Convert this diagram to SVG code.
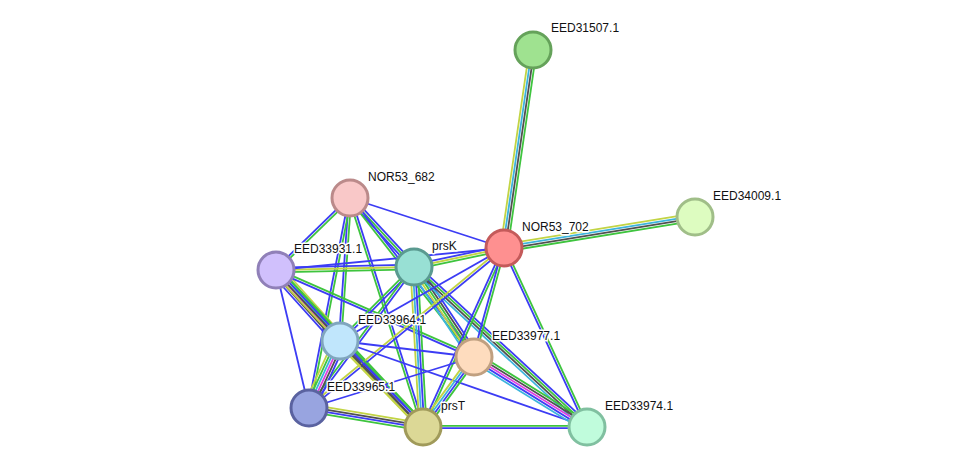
<svg xmlns="http://www.w3.org/2000/svg" width="975" height="473" viewBox="0 0 975 473">
<style>
line{stroke-width:1.8;fill:none}
.g{stroke:#3ec43e}.b{stroke:#3c3cf4}.y{stroke:#c2d444}.c{stroke:#3cb4dc}.k{stroke:#505050}.m{stroke:#e040e0}
.node circle{stroke-width:3}
text{font-family:"Liberation Sans",Arial,sans-serif;font-size:12px;fill:#111;stroke:#fff;stroke-width:3;paint-order:stroke;stroke-linejoin:round}
</style>
<rect width="975" height="473" fill="#fff"/>
<g id="connectors">
<g transform="translate(533 50) rotate(98.33)"><line class="g" x1="0" y1="-3.6" x2="200.1" y2="-3.6"/><line class="k" x1="0" y1="-1.2" x2="200.1" y2="-1.2"/><line class="c" x1="0" y1="1.2" x2="200.1" y2="1.2"/><line class="y" x1="0" y1="3.6" x2="200.1" y2="3.6"/></g>
<g transform="translate(504 248) rotate(-9.22)"><line class="y" x1="0" y1="-3.6" x2="193.5" y2="-3.6"/><line class="c" x1="0" y1="-1.2" x2="193.5" y2="-1.2"/><line class="k" x1="0" y1="1.2" x2="193.5" y2="1.2"/><line class="g" x1="0" y1="3.6" x2="193.5" y2="3.6"/></g>
<g transform="translate(350 198) rotate(17.99)"><line class="b" x1="0" y1="0" x2="161.9" y2="0"/></g>
<g transform="translate(350 198) rotate(135.78)"><line class="g" x1="0" y1="-1.2" x2="103.2" y2="-1.2"/><line class="b" x1="0" y1="1.2" x2="103.2" y2="1.2"/></g>
<g transform="translate(350 198) rotate(47.15)"><line class="b" x1="0" y1="-2.4" x2="94.1" y2="-2.4"/><line class="g" x1="0" y1="0" x2="94.1" y2="0"/><line class="b" x1="0" y1="2.4" x2="94.1" y2="2.4"/></g>
<g transform="translate(350 198) rotate(94)"><line class="g" x1="0" y1="-1.2" x2="143.3" y2="-1.2"/><line class="b" x1="0" y1="1.2" x2="143.3" y2="1.2"/></g>
<g transform="translate(350 198) rotate(101.05)"><line class="g" x1="0" y1="-1.2" x2="214" y2="-1.2"/><line class="b" x1="0" y1="1.2" x2="214" y2="1.2"/></g>
<g transform="translate(350 198) rotate(72.32)"><line class="b" x1="0" y1="-1.2" x2="240.4" y2="-1.2"/><line class="g" x1="0" y1="1.2" x2="240.4" y2="1.2"/></g>
<g transform="translate(350 198) rotate(52.05)"><line class="b" x1="0" y1="-1.2" x2="201.6" y2="-1.2"/><line class="g" x1="0" y1="1.2" x2="201.6" y2="1.2"/></g>
<g transform="translate(276 270) rotate(-1.25)"><line class="b" x1="0" y1="-2.4" x2="138" y2="-2.4"/><line class="y" x1="0" y1="0" x2="138" y2="0"/><line class="g" x1="0" y1="2.4" x2="138" y2="2.4"/></g>
<g transform="translate(276 270) rotate(-5.51)"><line class="b" x1="0" y1="0" x2="229.1" y2="0"/></g>
<g transform="translate(276 270) rotate(47.97)"><line class="y" x1="0" y1="-6" x2="95.6" y2="-6"/><line class="g" x1="0" y1="-3.6" x2="95.6" y2="-3.6"/><line class="c" x1="0" y1="-1.2" x2="95.6" y2="-1.2"/><line class="m" x1="0" y1="1.2" x2="95.6" y2="1.2"/><line class="k" x1="0" y1="3.6" x2="95.6" y2="3.6"/><line class="b" x1="0" y1="6" x2="95.6" y2="6"/></g>
<g transform="translate(276 270) rotate(76.55)"><line class="b" x1="0" y1="0" x2="141.9" y2="0"/></g>
<g transform="translate(276 270) rotate(46.88)"><line class="g" x1="0" y1="-3.6" x2="215.1" y2="-3.6"/><line class="b" x1="0" y1="-1.2" x2="215.1" y2="-1.2"/><line class="k" x1="0" y1="1.2" x2="215.1" y2="1.2"/><line class="y" x1="0" y1="3.6" x2="215.1" y2="3.6"/></g>
<g transform="translate(276 270) rotate(23.72)"><line class="g" x1="0" y1="-1.2" x2="216.3" y2="-1.2"/><line class="b" x1="0" y1="1.2" x2="216.3" y2="1.2"/></g>
<g transform="translate(414 267) rotate(-11.92)"><line class="b" x1="0" y1="-2.4" x2="92" y2="-2.4"/><line class="y" x1="0" y1="0" x2="92" y2="0"/><line class="g" x1="0" y1="2.4" x2="92" y2="2.4"/></g>
<g transform="translate(414 267) rotate(135)"><line class="b" x1="0" y1="-1.2" x2="104.7" y2="-1.2"/><line class="g" x1="0" y1="1.2" x2="104.7" y2="1.2"/></g>
<g transform="translate(414 267) rotate(126.67)"><line class="b" x1="0" y1="-1.2" x2="175.8" y2="-1.2"/><line class="g" x1="0" y1="1.2" x2="175.8" y2="1.2"/></g>
<g transform="translate(414 267) rotate(86.78)"><line class="g" x1="0" y1="-3.6" x2="160.3" y2="-3.6"/><line class="b" x1="0" y1="-1.2" x2="160.3" y2="-1.2"/><line class="c" x1="0" y1="1.2" x2="160.3" y2="1.2"/><line class="y" x1="0" y1="3.6" x2="160.3" y2="3.6"/></g>
<g transform="translate(414 267) rotate(56.31)"><line class="b" x1="0" y1="-4.8" x2="108.2" y2="-4.8"/><line class="k" x1="0" y1="-2.4" x2="108.2" y2="-2.4"/><line class="g" x1="0" y1="0" x2="108.2" y2="0"/><line class="y" x1="0" y1="2.4" x2="108.2" y2="2.4"/><line class="c" x1="0" y1="4.8" x2="108.2" y2="4.8"/></g>
<g transform="translate(414 267) rotate(42.77)"><line class="b" x1="0" y1="-3.6" x2="235.6" y2="-3.6"/><line class="g" x1="0" y1="-1.2" x2="235.6" y2="-1.2"/><line class="k" x1="0" y1="1.2" x2="235.6" y2="1.2"/><line class="c" x1="0" y1="3.6" x2="235.6" y2="3.6"/></g>
<g transform="translate(504 248) rotate(150.44)"><line class="b" x1="0" y1="0" x2="188.5" y2="0"/></g>
<g transform="translate(504 248) rotate(140.63)"><line class="b" x1="0" y1="-1.2" x2="252.2" y2="-1.2"/><line class="y" x1="0" y1="1.2" x2="252.2" y2="1.2"/></g>
<g transform="translate(504 248) rotate(114.35)"><line class="g" x1="0" y1="-1.2" x2="196.5" y2="-1.2"/><line class="b" x1="0" y1="1.2" x2="196.5" y2="1.2"/></g>
<g transform="translate(504 248) rotate(105.39)"><line class="g" x1="0" y1="-1.2" x2="113.1" y2="-1.2"/><line class="b" x1="0" y1="1.2" x2="113.1" y2="1.2"/></g>
<g transform="translate(504 248) rotate(65.12)"><line class="g" x1="0" y1="-1.2" x2="197.3" y2="-1.2"/><line class="b" x1="0" y1="1.2" x2="197.3" y2="1.2"/></g>
<g transform="translate(340 341) rotate(114.83)"><line class="b" x1="0" y1="-6" x2="73.8" y2="-6"/><line class="k" x1="0" y1="-3.6" x2="73.8" y2="-3.6"/><line class="m" x1="0" y1="-1.2" x2="73.8" y2="-1.2"/><line class="c" x1="0" y1="1.2" x2="73.8" y2="1.2"/><line class="g" x1="0" y1="3.6" x2="73.8" y2="3.6"/><line class="y" x1="0" y1="6" x2="73.8" y2="6"/></g>
<g transform="translate(340 341) rotate(46.02)"><line class="g" x1="0" y1="-3.6" x2="119.5" y2="-3.6"/><line class="b" x1="0" y1="-1.2" x2="119.5" y2="-1.2"/><line class="k" x1="0" y1="1.2" x2="119.5" y2="1.2"/><line class="y" x1="0" y1="3.6" x2="119.5" y2="3.6"/></g>
<g transform="translate(340 341) rotate(6.81)"><line class="b" x1="0" y1="0" x2="135" y2="0"/></g>
<g transform="translate(340 341) rotate(19.2)"><line class="b" x1="0" y1="0" x2="261.5" y2="0"/></g>
<g transform="translate(309 408) rotate(-17.18)"><line class="b" x1="0" y1="0" x2="172.7" y2="0"/></g>
<g transform="translate(474 357) rotate(126.08)"><line class="g" x1="0" y1="-3.6" x2="86.6" y2="-3.6"/><line class="b" x1="0" y1="-1.2" x2="86.6" y2="-1.2"/><line class="c" x1="0" y1="1.2" x2="86.6" y2="1.2"/><line class="y" x1="0" y1="3.6" x2="86.6" y2="3.6"/></g>
<g transform="translate(474 357) rotate(31.78)"><line class="g" x1="0" y1="-4.8" x2="132.9" y2="-4.8"/><line class="k" x1="0" y1="-2.4" x2="132.9" y2="-2.4"/><line class="m" x1="0" y1="0" x2="132.9" y2="0"/><line class="b" x1="0" y1="2.4" x2="132.9" y2="2.4"/><line class="c" x1="0" y1="4.8" x2="132.9" y2="4.8"/></g>
<g transform="translate(309 408) rotate(9.46)"><line class="y" x1="0" y1="-3.6" x2="115.6" y2="-3.6"/><line class="k" x1="0" y1="-1.2" x2="115.6" y2="-1.2"/><line class="b" x1="0" y1="1.2" x2="115.6" y2="1.2"/><line class="g" x1="0" y1="3.6" x2="115.6" y2="3.6"/></g>
<g transform="translate(423 427)"><line class="g" x1="0" y1="-1.2" x2="164" y2="-1.2"/><line class="b" x1="0" y1="1.2" x2="164" y2="1.2"/></g>
</g>
<g id="EED31507.1" class="node"><circle cx="533" cy="50" r="18" fill="#9fe290" stroke="#65a25a"/><text x="551" y="32">EED31507.1</text></g>
<g id="NOR53_682" class="node"><circle cx="350" cy="198" r="18" fill="#f9c8c8" stroke="#bb8a8a"/><text x="368" y="181">NOR53_682</text></g>
<g id="EED34009.1" class="node"><circle cx="695" cy="217" r="18" fill="#ddfcc0" stroke="#a0be88"/><text x="713" y="200">EED34009.1</text></g>
<g id="NOR53_702" class="node"><circle cx="504" cy="248" r="18" fill="#fe9090" stroke="#c45a5a"/><text x="522" y="231">NOR53_702</text></g>
<g id="EED33931.1" class="node"><circle cx="276" cy="270" r="18" fill="#d0c0fc" stroke="#9080b8"/><text x="294" y="253">EED33931.1</text></g>
<g id="prsK" class="node"><circle cx="414" cy="267" r="18" fill="#98e0d4" stroke="#5a9a90"/><text x="432" y="250">prsK</text></g>
<g id="EED33964.1" class="node"><circle cx="340" cy="341" r="18" fill="#c0e6fc" stroke="#80a6be"/><text x="358" y="324">EED33964.1</text></g>
<g id="EED33977.1" class="node"><circle cx="474" cy="357" r="18" fill="#fedcbe" stroke="#c0a080"/><text x="492" y="340">EED33977.1</text></g>
<g id="EED33965.1" class="node"><circle cx="309" cy="408" r="18" fill="#98a4e0" stroke="#5a62a0"/><text x="327" y="391">EED33965.1</text></g>
<g id="prsT" class="node"><circle cx="423" cy="427" r="18" fill="#dcd896" stroke="#a09a5a"/><text x="441" y="410">prsT</text></g>
<g id="EED33974.1" class="node"><circle cx="587" cy="427" r="18" fill="#c0fcdc" stroke="#80c0a0"/><text x="605" y="410">EED33974.1</text></g>
</svg>
